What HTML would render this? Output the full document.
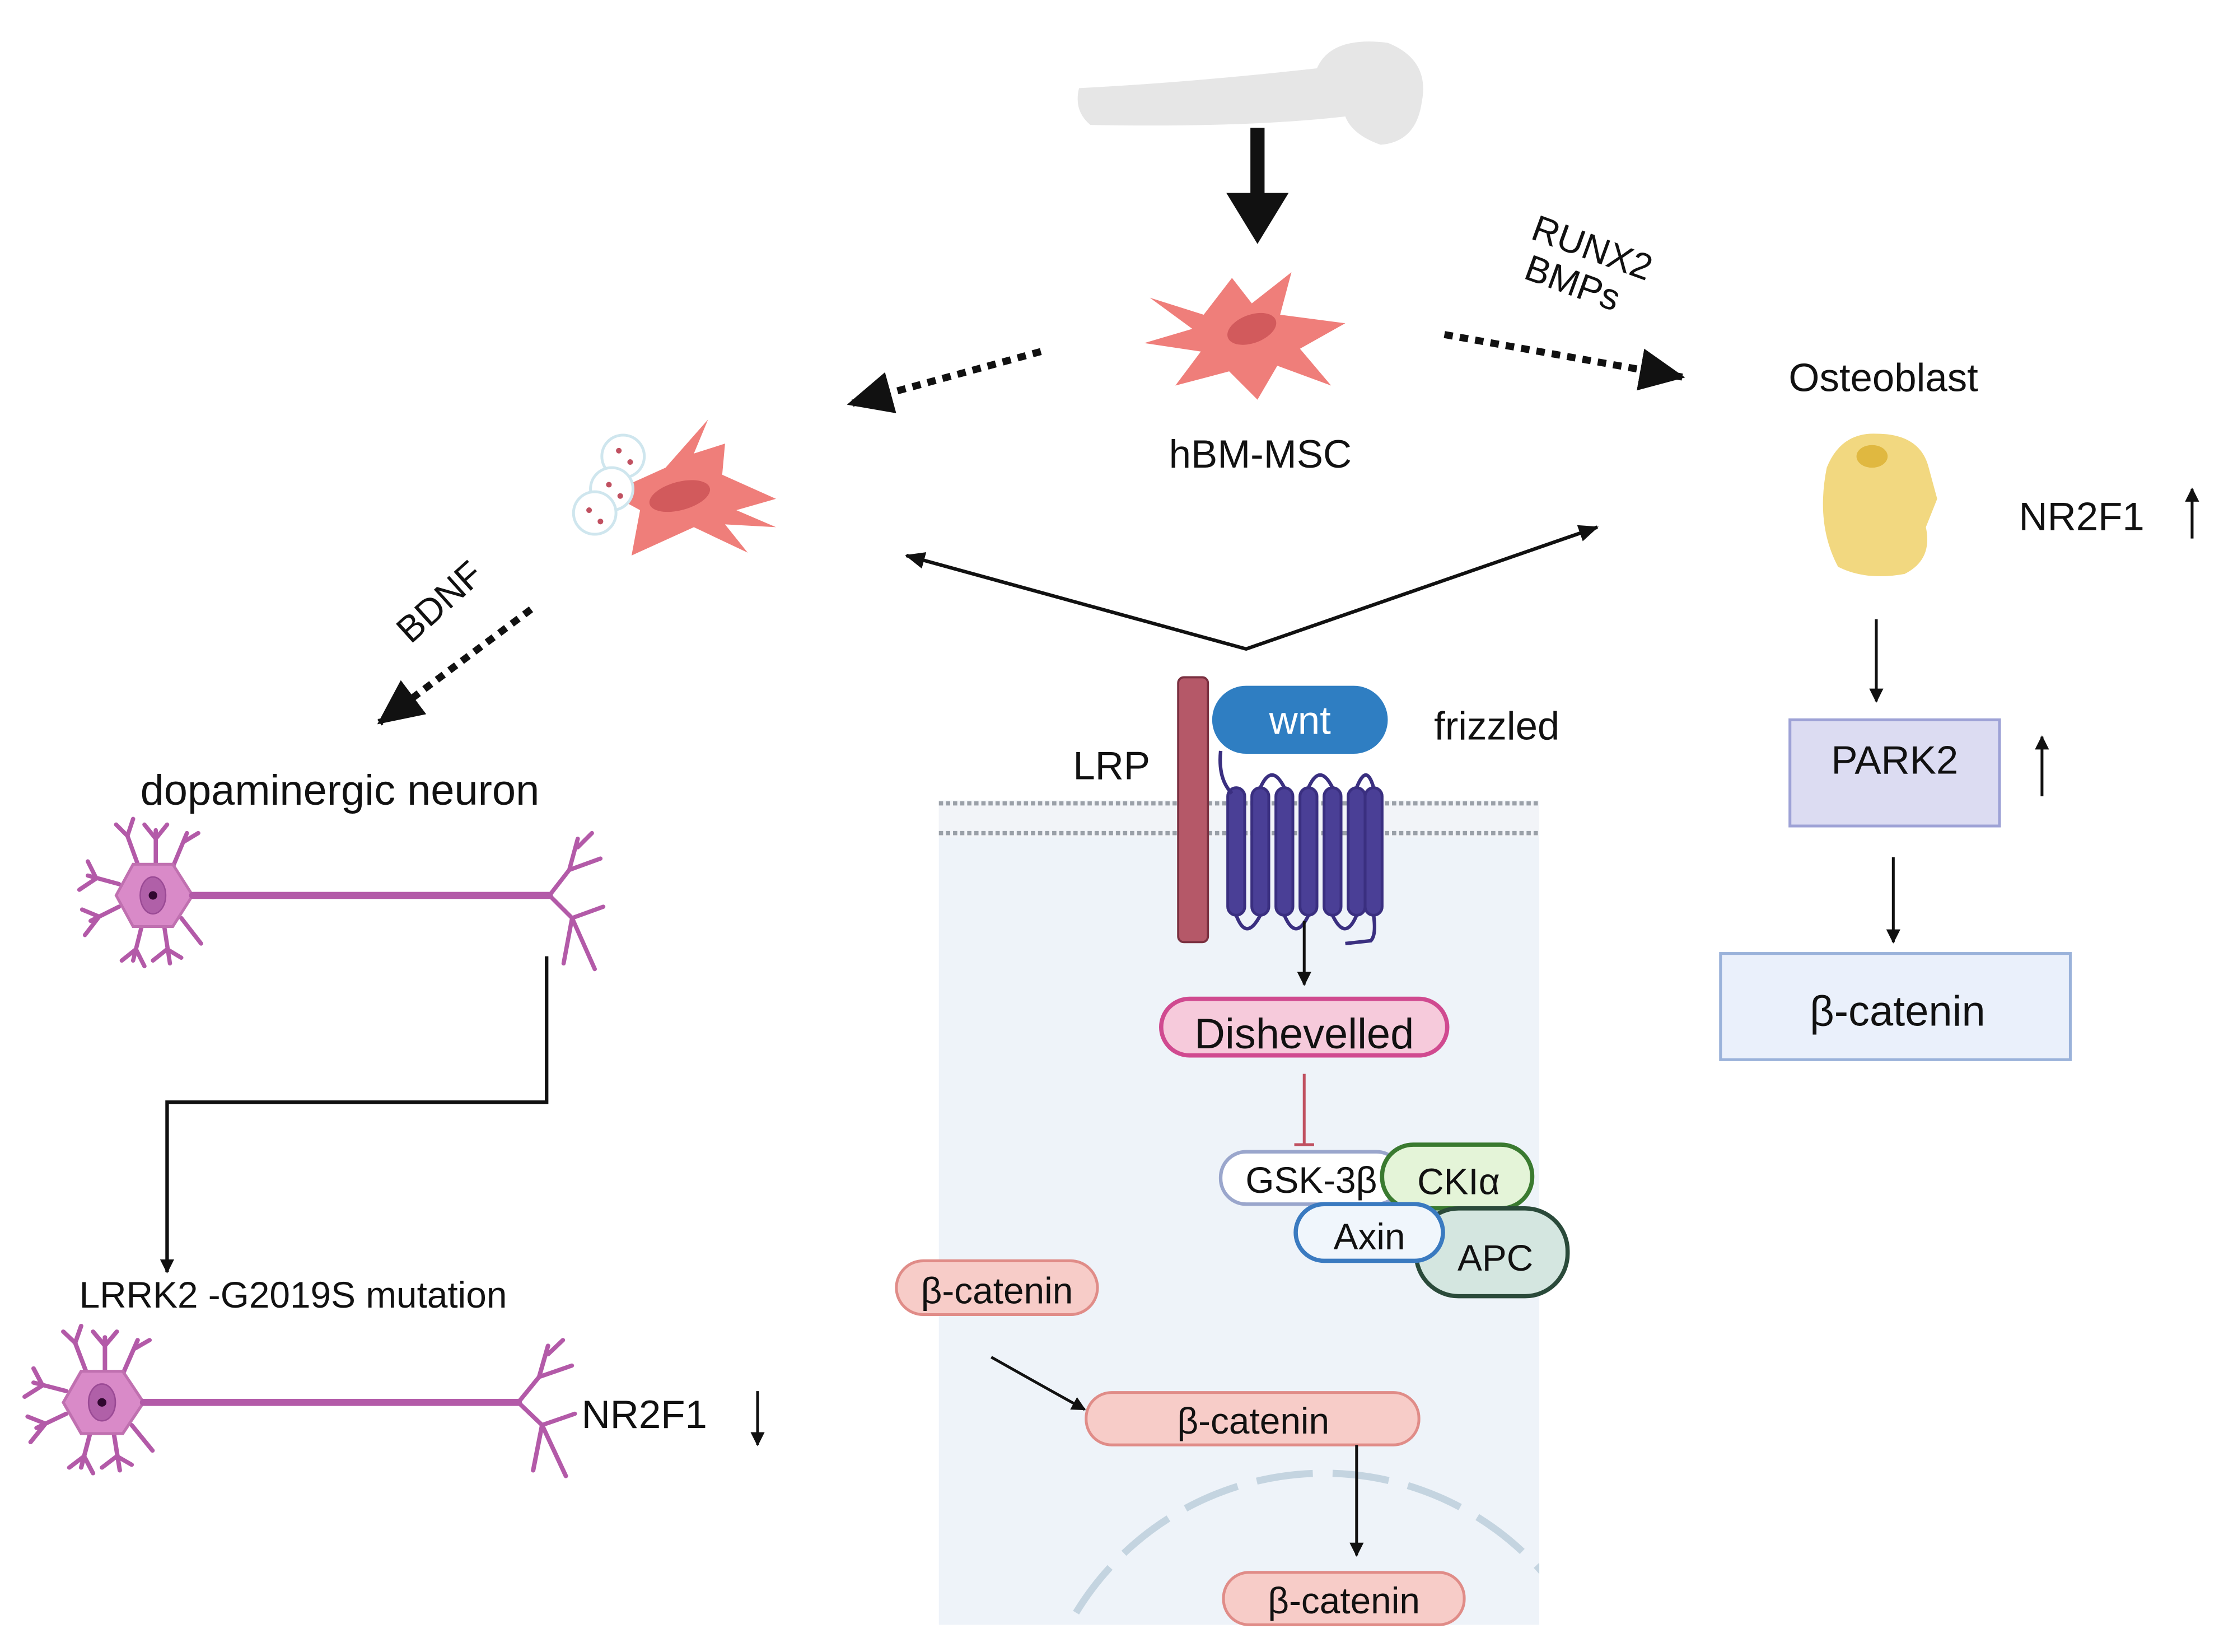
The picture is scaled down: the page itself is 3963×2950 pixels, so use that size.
<!DOCTYPE html>
<html><head><meta charset="utf-8"><style>
html,body{margin:0;padding:0;background:#fff;overflow:hidden;width:3963px;height:2950px;}
svg{display:block;}
text{font-family:"Liberation Sans",sans-serif;font-weight:500;}
</style></head><body>
<svg width="3963" height="2950" viewBox="0 0 1567 1166" xmlns="http://www.w3.org/2000/svg">
<defs>
<clipPath id="panel"><rect x="663" y="565" width="424" height="582"/></clipPath>
<marker id="ah" markerWidth="10" markerHeight="10" refX="9" refY="5" orient="auto" markerUnits="userSpaceOnUse"><path d="M0,0 L10,5 L0,10 z" fill="#111"/></marker>
<marker id="ahs" markerWidth="14" markerHeight="14" refX="13" refY="7" orient="auto" markerUnits="userSpaceOnUse"><path d="M0,1 L14,7 L0,13 z" fill="#111"/></marker>
<marker id="ahr" markerWidth="14" markerHeight="14" refX="1" refY="7" orient="auto" markerUnits="userSpaceOnUse"><path d="M14,1 L0,7 L14,13 z" fill="#111"/></marker>
<marker id="big" markerWidth="34" markerHeight="30" refX="30" refY="15" orient="auto" markerUnits="userSpaceOnUse"><path d="M0,0 L32,15 L0,30 z" fill="#111"/></marker>
<g id="neuron" fill="none" stroke="#b35aa8" stroke-linecap="round">
  <g stroke-width="3">
    <path d="M-10,-20 L-18,-42 M-18,-42 L-26,-50 M-18,-42 L-14,-54"/>
    <path d="M2,-22 L2,-46 M2,-40 L-6,-50 M2,-40 L10,-50"/>
    <path d="M14,-20 L24,-44 M22,-38 L32,-44"/>
    <path d="M-24,-8 L-46,-14 M-40,-12 L-46,-24 M-40,-12 L-52,-4"/>
    <path d="M-24,8 L-44,18 M-38,15 L-48,28 M-38,15 L-50,10"/>
    <path d="M-8,22 L-14,46 M-12,38 L-22,46 M-12,38 L-6,50"/>
    <path d="M8,22 L12,48 M10,38 L0,46 M10,38 L20,44"/>
    <path d="M20,16 L34,34"/>
  </g>
  <path d="M-26,0 L-14,-22 L14,-22 L28,0 L14,22 L-14,22 Z" fill="#d98ac8" stroke="#c070b0" stroke-width="2"/>
  <ellipse cx="0" cy="0" rx="9" ry="13" fill="#b060a8" stroke="#9a4a95"/>
  <circle cx="0" cy="0" r="3" fill="#300830" stroke="none"/>
  <path d="M28,0 L280,0" stroke-width="5"/>
  <g stroke-width="3">
    <path d="M280,0 L294,-18 L300,-40 M294,-18 L316,-26 M300,-34 L310,-44"/>
    <path d="M280,0 L296,16 L318,8 M296,16 L290,48 M296,16 L312,52"/>
  </g>
</g>
</defs>

<!-- bone -->
<path d="M762,62 Q840,58 930,48 Q940,25 980,30 Q1010,42 1004,72 Q1000,100 975,102 Q955,95 950,82 Q880,90 770,88 Q758,78 762,62 Z" fill="#e6e6e6"/>
<!-- big arrow -->
<path d="M888,90 L888,140" stroke="#111" stroke-width="10"/>
<path d="M866,136 L910,136 L888,172 Z" fill="#111"/>

<!-- hBM-MSC cell -->
<path d="M812,210 L850,222 L870,196 L884,214 L912,192 L904,222 L950,228 L918,246 L940,272 L902,258 L888,282 L868,262 L830,272 L848,248 L808,242 L842,232 Z" fill="#ef7e7a"/>
<ellipse cx="884" cy="232" rx="18" ry="10" fill="#d25a5c" transform="rotate(-20 884 232)"/>
<text x="890" y="330" font-size="28" text-anchor="middle" fill="#111">hBM-MSC</text>

<!-- dotted arrows -->
<path d="M735,248 L600,285" stroke="#111" stroke-width="5" stroke-dasharray="6,5" marker-end="url(#big)"/>
<path d="M1020,236 L1188,266" stroke="#111" stroke-width="5" stroke-dasharray="6,5" marker-end="url(#big)"/>
<text x="1080" y="168" font-size="26" fill="#111" transform="rotate(20 1080 168)">RUNX2</text>
<text x="1075" y="196" font-size="26" fill="#111" transform="rotate(20 1075 196)">BMPs</text>

<!-- Osteoblast -->
<text x="1330" y="276" font-size="28" text-anchor="middle" fill="#111">Osteoblast</text>
<path d="M1290,330 Q1300,305 1325,306 Q1356,306 1362,330 L1368,352 L1360,372 Q1365,395 1345,405 Q1318,410 1298,400 Q1282,370 1290,330 Z" fill="#f2d880"/>
<ellipse cx="1322" cy="322" rx="11" ry="8" fill="#e0b840"/>
<text x="1470" y="374" font-size="28" text-anchor="middle" fill="#111">NR2F1</text>
<path d="M1548,380 L1548,345" stroke="#111" stroke-width="2" marker-end="url(#ah)"/>
<path d="M1325,437 L1325,495" stroke="#111" stroke-width="2" marker-end="url(#ah)"/>
<rect x="1264" y="508" width="148" height="75" fill="#dcdcf2" stroke="#9ea2d6" stroke-width="2"/>
<text x="1338" y="546" font-size="28" text-anchor="middle" fill="#111">PARK2</text>
<path d="M1442,562 L1442,520" stroke="#111" stroke-width="2" marker-end="url(#ah)"/>
<path d="M1337,605 L1337,665" stroke="#111" stroke-width="2" marker-end="url(#ah)"/>
<rect x="1215" y="673" width="247" height="75" fill="#eaf0fb" stroke="#9ab2da" stroke-width="2"/>
<text x="1340" y="724" font-size="30" text-anchor="middle" fill="#111">β-catenin</text>

<!-- adipocyte cell -->
<path d="M430,348 L470,330 L500,296 L490,320 L512,313 L510,335 L548,352 L520,360 L548,372 L512,370 L528,390 L490,372 L446,392 L452,360 Z" fill="#ef7e7a"/>
<ellipse cx="480" cy="350" rx="22" ry="10" fill="#d25a5c" transform="rotate(-15 480 350)"/>
<circle cx="440" cy="322" r="15" fill="#fff" stroke="#cfe6ee" stroke-width="2"/>
<circle cx="432" cy="345" r="15" fill="#fff" stroke="#cfe6ee" stroke-width="2"/>
<circle cx="420" cy="362" r="15" fill="#fff" stroke="#cfe6ee" stroke-width="2"/>
<g fill="#c05060"><circle cx="437" cy="318" r="2"/><circle cx="445" cy="326" r="2"/><circle cx="430" cy="342" r="2"/><circle cx="438" cy="350" r="2"/><circle cx="416" cy="360" r="2"/><circle cx="424" cy="368" r="2"/></g>

<!-- double arrow line -->
<path d="M640,392 L880,458 L1128,372" fill="none" stroke="#111" stroke-width="2.5" marker-start="url(#ahr)" marker-end="url(#ahs)"/>

<!-- BDNF -->
<text x="290" y="455" font-size="26" fill="#111" transform="rotate(-42 290 455)">BDNF</text>
<path d="M375,430 L268,510" stroke="#111" stroke-width="5" stroke-dasharray="6,5" marker-end="url(#big)"/>

<text x="240" y="568" font-size="30" text-anchor="middle" fill="#111">dopaminergic neuron</text>
<use href="#neuron" transform="translate(108,632)"/>
<path d="M386,675 L386,778 L118,778 L118,898" fill="none" stroke="#111" stroke-width="2.5" marker-end="url(#ah)"/>
<text x="207" y="923" font-size="26" text-anchor="middle" fill="#111">LRRK2 -G2019S mutation</text>
<use href="#neuron" transform="translate(72,990) scale(1.05,1)"/>
<text x="455" y="1008" font-size="28" text-anchor="middle" fill="#111">NR2F1</text>
<path d="M535,982 L535,1020" stroke="#111" stroke-width="2" marker-end="url(#ah)"/>

<!-- cell panel -->
<rect x="663" y="565" width="424" height="582" fill="#eef3f9"/>
<rect x="663" y="565" width="424" height="26" fill="#f2f4f8"/>
<line x1="663" y1="567" x2="1087" y2="567" stroke="#9aa0a8" stroke-width="3" stroke-dasharray="3,2"/>
<line x1="663" y1="588" x2="1087" y2="588" stroke="#9aa0a8" stroke-width="3" stroke-dasharray="3,2"/>
<g clip-path="url(#panel)">
<circle cx="935" cy="1245" r="205" fill="none" stroke="#c4d4e0" stroke-width="5" stroke-dasharray="40,14"/>
</g>

<!-- LRP + frizzled -->
<text x="785" y="550" font-size="28" text-anchor="middle" fill="#111">LRP</text>
<rect x="832" y="478" width="21" height="187" rx="4" fill="#b55868" stroke="#7a3040" stroke-width="1.5"/>
<rect x="856" y="484" width="124" height="48" rx="24" fill="#2f7ec2"/>
<text x="918" y="518" font-size="28" text-anchor="middle" fill="#fff">wnt</text>
<text x="1057" y="522" font-size="28" text-anchor="middle" fill="#111">frizzled</text>
<g fill="#4a3f96" stroke="#3a2f80" stroke-width="2">
<rect x="867" y="556" width="12" height="90" rx="6"/><rect x="884" y="556" width="12" height="90" rx="6"/>
<rect x="901" y="556" width="12" height="90" rx="6"/><rect x="918" y="556" width="12" height="90" rx="6"/>
<rect x="935" y="556" width="12" height="90" rx="6"/><rect x="952" y="556" width="12" height="90" rx="6"/>
<rect x="964" y="556" width="12" height="90" rx="6"/>
</g>
<path d="M862,530 Q860,550 870,560 M890,556 Q898,538 907,556 M924,556 Q932,538 941,556 M958,556 Q965,538 970,556 M873,646 Q880,665 890,646 M907,646 Q915,665 924,646 M941,646 Q950,665 958,646 M970,646 Q972,660 968,664 L950,666" fill="none" stroke="#3a2f80" stroke-width="2.5"/>
<path d="M921,650 L921,695" stroke="#111" stroke-width="2" marker-end="url(#ah)"/>
<rect x="820" y="705" width="202" height="40" rx="20" fill="#f6cadb" stroke="#d04a90" stroke-width="3"/>
<text x="921" y="740" font-size="30" text-anchor="middle" fill="#111">Dishevelled</text>
<path d="M921,758 L921,808 M914,808 L928,808" stroke="#c05060" stroke-width="2"/>

<rect x="862" y="813" width="128" height="37" rx="18" fill="#fff" stroke="#9aa6cc" stroke-width="2.5"/>
<text x="926" y="842" font-size="26" text-anchor="middle" fill="#111">GSK-3β</text>
<rect x="976" y="808" width="106" height="45" rx="22" fill="#e4f4d8" stroke="#3a7a30" stroke-width="3"/>
<text x="1030" y="843" font-size="26" text-anchor="middle" fill="#111">CKIα</text>
<rect x="1000" y="853" width="107" height="62" rx="30" fill="#d4e6e0" stroke="#2a4a3a" stroke-width="3"/>
<text x="1056" y="897" font-size="26" text-anchor="middle" fill="#111">APC</text>
<rect x="915" y="850" width="104" height="40" rx="20" fill="#f0f6fc" stroke="#3a7ac0" stroke-width="3"/>
<text x="967" y="882" font-size="26" text-anchor="middle" fill="#111">Axin</text>

<g fill="#f7ccc8" stroke="#e08c88" stroke-width="2">
<rect x="633" y="890" width="142" height="38" rx="19"/>
<rect x="767" y="983" width="235" height="37" rx="18"/>
<rect x="864" y="1110" width="170" height="37" rx="18"/>
</g>
<text x="704" y="920" font-size="26" text-anchor="middle" fill="#111">β-catenin</text>
<text x="885" y="1012" font-size="26" text-anchor="middle" fill="#111">β-catenin</text>
<text x="949" y="1139" font-size="26" text-anchor="middle" fill="#111">β-catenin</text>
<path d="M700,958 Q730,975 766,995" fill="none" stroke="#111" stroke-width="2" marker-end="url(#ah)"/>
<path d="M958,1020 L958,1098" stroke="#111" stroke-width="2" marker-end="url(#ah)"/>
</svg>
</body></html>
